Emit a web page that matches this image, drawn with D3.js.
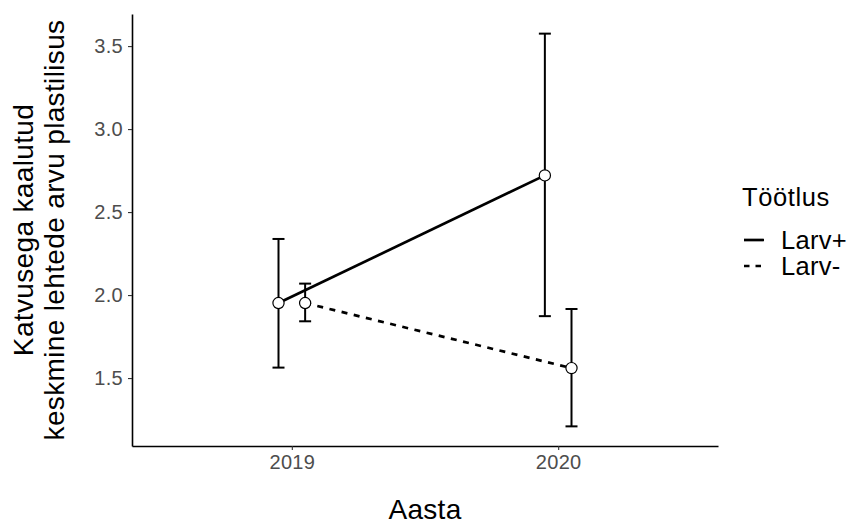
<!DOCTYPE html>
<html>
<head>
<meta charset="utf-8">
<script src="https://cdn.jsdelivr.net/npm/d3@7"></script>
<style>
  html, body { margin: 0; padding: 0; background: #fff; }
  svg { display: block; font-family: Arial, "Liberation Sans", sans-serif; }
</style>
</head>
<body>
<svg id="chart" width="850" height="526"></svg>
<script>
// Years on the x axis and the two treatments
const years = ["2019", "2020"];
const treatments = ["Larv+", "Larv-"];

// Mean values and error-bar limits per treatment, in year order
const meanLarvPlus  = [1.952, 2.721];
const lowerLarvPlus = [1.563, 1.873];
const upperLarvPlus = [2.338, 3.575];

const meanLarvMinus  = [1.952, 1.560];
const lowerLarvMinus = [1.842, 1.209];
const upperLarvMinus = [2.069, 1.916];

const yTicks = [1.5, 2.0, 2.5, 3.0, 3.5];

const xTitle = "Aasta";
const yTitleLines = ["Katvusega kaalutud", "keskmine lehtede arvu plastilisus"];
const legendTitle = "Töötlus";

const series = [
  { name: treatments[0], mean: meanLarvPlus, lo: lowerLarvPlus, hi: upperLarvPlus, dash: null, offset: -0.05 },
  { name: treatments[1], mean: meanLarvMinus, lo: lowerLarvMinus, hi: upperLarvMinus, dash: "6,6.5", offset: 0.05 }
];

const svg = d3.select("#chart");
const plot = { left: 132, right: 718, top: 14, bottom: 446 };

// Discrete x positions 1..n with 0.6 expansion on either side
const x = d3.scaleLinear().domain([0.4, years.length + 0.6]).range([plot.left, plot.right]);

const allVals = series.flatMap(s => s.lo.concat(s.hi));
const yMin = d3.min(allVals), yMax = d3.max(allVals);
const pad = (yMax - yMin) * 0.05;
const y = d3.scaleLinear().domain([yMin - pad, yMax + pad]).range([plot.bottom, plot.top]);

// Axes
const xAxis = d3.axisBottom(x).tickValues(years.map((d, i) => i + 1)).tickFormat((d) => years[d - 1]).tickSizeInner(4).tickSizeOuter(0).tickPadding(5);
const gx = svg.append("g").attr("transform", `translate(0,${plot.bottom})`).call(xAxis);
gx.select(".domain").attr("stroke", "#000").attr("stroke-width", 1.6);
gx.selectAll(".tick line").attr("stroke", "#333").attr("stroke-width", 1.1);
gx.selectAll(".tick text").attr("fill", "#4d4d4d").attr("font-size", 20).attr("letter-spacing", 0.3).attr("font-family", "Arial, 'Liberation Sans', sans-serif");

const yAxis = d3.axisLeft(y).tickValues(yTicks).tickFormat(d3.format(".1f")).tickSizeInner(4).tickSizeOuter(0).tickPadding(5);
const gy = svg.append("g").attr("transform", `translate(${plot.left},0)`).call(yAxis);
gy.select(".domain").attr("stroke", "#000").attr("stroke-width", 1.6);
gy.selectAll(".tick line").attr("stroke", "#333").attr("stroke-width", 1.1);
gy.selectAll(".tick text").attr("fill", "#4d4d4d").attr("font-size", 20).attr("letter-spacing", 0.3).attr("font-family", "Arial, 'Liberation Sans', sans-serif");

// Axis titles
svg.append("text")
  .attr("x", (plot.left + plot.right) / 2).attr("y", 519)
  .attr("text-anchor", "middle").attr("font-size", 28).attr("letter-spacing", 0.3).attr("fill", "#000")
  .text(xTitle);

const yt = svg.append("text")
  .attr("transform", `translate(33,${(plot.top + plot.bottom) / 2}) rotate(-90)`)
  .attr("text-anchor", "middle").attr("font-size", 28).attr("letter-spacing", 0.35).attr("fill", "#000");
yTitleLines.forEach((line, i) => {
  yt.append("tspan").attr("x", 0).attr("dy", i === 0 ? 0 : 31).text(line);
});

// Connecting lines
const line = d3.line().x(d => d[0]).y(d => d[1]);
series.forEach(s => {
  const pts = s.mean.map((m, i) => [x(i + 1 + s.offset), y(m)]);
  svg.append("path").attr("d", line(pts))
    .attr("fill", "none").attr("stroke", "#000").attr("stroke-width", 2.7)
    .attr("stroke-dasharray", s.dash);
});

// Error bars
const capHalf = 6;
series.forEach(s => {
  s.mean.forEach((m, i) => {
    const cx = x(i + 1 + s.offset);
    const g = svg.append("g").attr("stroke", "#000").attr("stroke-width", 2);
    g.append("line").attr("x1", cx).attr("x2", cx).attr("y1", y(s.lo[i])).attr("y2", y(s.hi[i]));
    g.append("line").attr("x1", cx - capHalf).attr("x2", cx + capHalf).attr("y1", y(s.lo[i])).attr("y2", y(s.lo[i]));
    g.append("line").attr("x1", cx - capHalf).attr("x2", cx + capHalf).attr("y1", y(s.hi[i])).attr("y2", y(s.hi[i]));
  });
});

// Points
series.forEach(s => {
  svg.append("g").selectAll("circle").data(s.mean).join("circle")
    .attr("cx", (d, i) => x(i + 1 + s.offset)).attr("cy", d => y(d)).attr("r", 5.6)
    .attr("fill", "#fff").attr("stroke", "#000").attr("stroke-width", 1.2);
});

// Legend
const leg = svg.append("g");
leg.append("text").attr("x", 742).attr("y", 206).attr("font-size", 25.5).attr("letter-spacing", 0.6).attr("fill", "#000").text(legendTitle);
series.forEach((s, i) => {
  const cy = 240 + i * 26;
  leg.append("line").attr("x1", 744).attr("x2", 764).attr("y1", cy).attr("y2", cy)
    .attr("stroke", "#000").attr("stroke-width", 2.7).attr("stroke-dasharray", s.dash ? "5.5,6" : null);
  leg.append("text").attr("x", 781).attr("y", cy + 9).attr("font-size", 25.5).attr("letter-spacing", 0.3).attr("fill", "#000").text(s.name);
});
</script>
</body>
</html>
